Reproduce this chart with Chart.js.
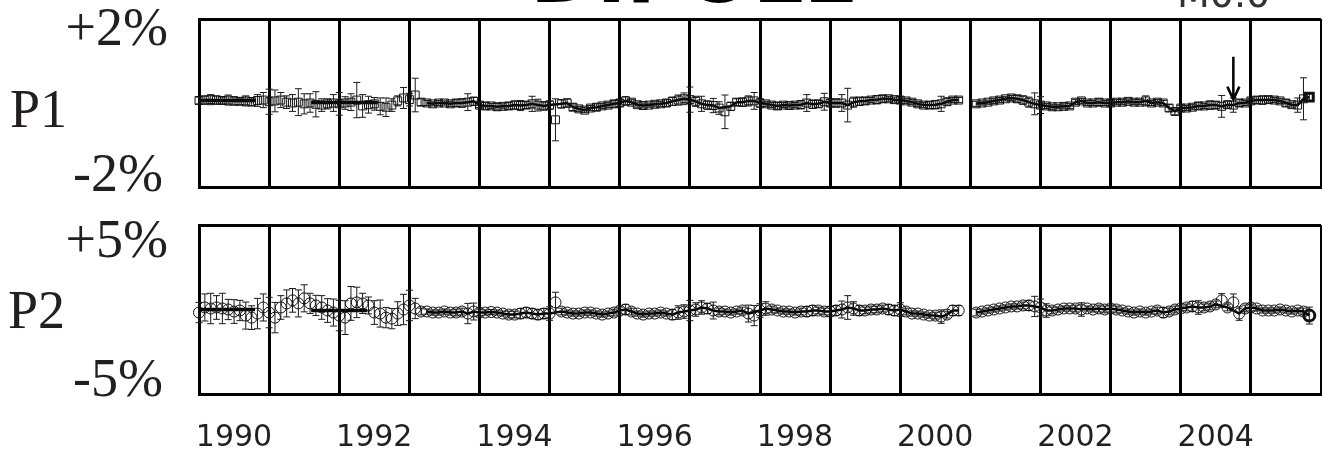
<!DOCTYPE html>
<html>
<head>
<meta charset="utf-8">
<title>P1 / P2 residuals</title>
<script src="https://cdn.jsdelivr.net/npm/chart.js@4.4.1/dist/chart.umd.min.js"></script>
<style>
    html, body { margin: 0; padding: 0; background: #fff; }
    #wrap { position: relative; width: 1322px; height: 466px; overflow: hidden; }
    canvas { position: absolute; left: 0; }
    #top { top: 0; }
    #bottom { top: 200px; }
</style>
</head>
<body>
<div id="wrap">
    <canvas id="top" width="1322" height="200"></canvas>
    <!-- wider than the page: the x labels reserve their padding on the right, which is clipped off -->
    <canvas id="bottom" width="1347" height="293"></canvas>
</div>
<script>
// ===============================
// DATA (monthly, in %)
// ===============================
const years = [1990, 1991, 1992, 1993, 1994, 1995, 1996, 1997, 1998, 1999, 2000, 2001, 2002, 2003, 2004, 2005];
const tickYears = [1990, 1992, 1994, 1996, 1998, 2000, 2002, 2004];

const p1Values = [
    [0.06, 0.07, 0.08, 0.07, 0.06, 0.07, 0.05, 0.04, 0.05, 0.03, 0.06, 0.07],
    [0.03, 0.05, 0.07, 0.02, 0.00, 0.02, -0.02, 0.00, -0.03, -0.05, -0.02, 0.00],
    [-0.02, 0.00, 0.02, 0.07, -0.07, -0.04, -0.02, -0.08, -0.10, -0.05, 0.05, 0.12],
    [0.08, 0.19, 0.02, 0.00, -0.02, 0.00, 0.00, -0.02, 0.00, 0.00, 0.02, 0.04],
    [-0.05, -0.07, -0.07, -0.09, -0.08, -0.07, -0.05, -0.06, -0.05, -0.02, -0.05, -0.07],
    [-0.05, -0.40, -0.02, 0.00, -0.10, -0.14, -0.17, -0.12, -0.10, -0.07, -0.05, -0.02],
    [0.00, 0.05, 0.02, -0.04, -0.06, -0.05, -0.03, -0.02, 0.00, 0.04, 0.07, 0.10],
    [0.08, 0.04, -0.02, -0.05, -0.06, -0.12, -0.21, -0.08, 0.02, 0.02, 0.05, 0.05],
    [0.00, -0.02, -0.05, -0.07, -0.05, -0.06, -0.05, -0.04, 0.00, -0.03, -0.02, 0.03],
    [0.00, 0.00, 0.00, -0.05, 0.02, 0.04, 0.05, 0.07, 0.08, 0.10, 0.10, 0.08],
    [0.07, 0.05, 0.02, -0.02, -0.05, -0.05, -0.04, -0.02, 0.03, 0.07, 0.07, null],
    [null, -0.02, 0.00, 0.02, 0.05, 0.07, 0.10, 0.12, 0.10, 0.07, 0.02, -0.02],
    [-0.05, -0.07, -0.09, -0.09, -0.08, -0.07, 0.02, 0.05, 0.00, 0.00, 0.02, 0.00],
    [0.00, 0.02, 0.02, 0.04, 0.02, 0.02, 0.05, 0.00, 0.02, 0.00, -0.12, -0.20],
    [-0.12, -0.12, -0.10, -0.07, -0.07, -0.05, -0.05, -0.08, -0.04, -0.05, 0.00, 0.00],
    [0.05, 0.07, 0.07, 0.08, 0.07, 0.05, 0.00, -0.04, -0.05, 0.10, 0.14]
];

const p1Errors = [
    [0.08, 0.10, 0.12, 0.10, 0.08, 0.12, 0.10, 0.08, 0.12, 0.10, 0.14, 0.18],
    [0.30, 0.26, 0.18, 0.15, 0.20, 0.32, 0.24, 0.22, 0.30, 0.15, 0.12, 0.20],
    [0.27, 0.15, 0.20, 0.42, 0.27, 0.20, 0.15, 0.20, 0.22, 0.15, 0.12, 0.25],
    [0.15, 0.40, 0.08, 0.06, 0.05, 0.06, 0.05, 0.06, 0.08, 0.10, 0.20, 0.10],
    [0.06, 0.08, 0.06, 0.08, 0.06, 0.08, 0.10, 0.12, 0.08, 0.18, 0.14, 0.10],
    [0.10, 0.50, 0.10, 0.10, 0.08, 0.06, 0.06, 0.06, 0.08, 0.06, 0.06, 0.08],
    [0.08, 0.10, 0.06, 0.06, 0.06, 0.05, 0.06, 0.06, 0.08, 0.10, 0.12, 0.14],
    [0.30, 0.12, 0.18, 0.10, 0.17, 0.15, 0.40, 0.10, 0.08, 0.10, 0.12, 0.20],
    [0.10, 0.06, 0.06, 0.08, 0.06, 0.06, 0.06, 0.10, 0.20, 0.10, 0.08, 0.20],
    [0.08, 0.10, 0.20, 0.40, 0.12, 0.10, 0.08, 0.06, 0.10, 0.08, 0.06, 0.06],
    [0.08, 0.06, 0.06, 0.06, 0.06, 0.08, 0.10, 0.18, 0.08, 0.06, 0.06, null],
    [null, 0.06, 0.05, 0.05, 0.06, 0.06, 0.05, 0.06, 0.08, 0.10, 0.12, 0.26],
    [0.20, 0.06, 0.06, 0.05, 0.06, 0.06, 0.06, 0.06, 0.06, 0.06, 0.08, 0.06],
    [0.06, 0.06, 0.06, 0.06, 0.06, 0.06, 0.12, 0.06, 0.06, 0.06, 0.08, 0.08],
    [0.06, 0.06, 0.06, 0.08, 0.06, 0.10, 0.08, 0.26, 0.08, 0.17, 0.08, 0.06],
    [0.06, 0.08, 0.10, 0.08, 0.06, 0.06, 0.08, 0.06, 0.17, 0.50, 0.08]
];

const p2Values = [
    [-0.18, 0.12, 0.06, 0.12, 0.06, 0.00, -0.12, -0.06, -0.36, -0.48, -0.24, 0.12],
    [-0.18, -0.48, 0.12, 0.36, 0.54, 0.36, 0.66, 0.36, 0.24, 0.12, -0.06, -0.18],
    [-0.36, -0.48, 0.36, 0.42, 0.36, 0.24, -0.18, -0.24, -0.48, -0.54, -0.24, 0.00],
    [0.24, 0.06, -0.12, -0.12, -0.18, -0.18, -0.12, -0.18, -0.18, -0.12, -0.24, -0.12],
    [-0.18, -0.18, -0.15, -0.18, -0.24, -0.30, -0.30, -0.24, -0.18, -0.24, -0.30, -0.24],
    [-0.24, 0.42, -0.12, -0.18, -0.24, -0.24, -0.18, -0.18, -0.24, -0.30, -0.24, -0.18],
    [-0.06, 0.00, -0.12, -0.24, -0.30, -0.24, -0.24, -0.18, -0.24, -0.30, -0.18, -0.12],
    [-0.06, 0.00, 0.12, 0.06, -0.06, -0.12, -0.12, -0.18, -0.12, -0.06, -0.24, -0.36],
    [-0.06, 0.06, 0.00, -0.06, -0.12, -0.12, -0.18, -0.12, -0.12, -0.06, -0.06, -0.12],
    [-0.12, -0.06, 0.00, 0.12, 0.06, -0.06, -0.06, 0.00, 0.00, 0.06, 0.00, -0.06],
    [0.00, -0.12, -0.24, -0.24, -0.30, -0.36, -0.36, -0.42, -0.30, -0.06, -0.06, null],
    [null, -0.18, -0.12, -0.06, 0.00, 0.06, 0.12, 0.18, 0.18, 0.24, 0.24, 0.18],
    [0.12, -0.06, -0.06, 0.00, 0.06, 0.06, 0.06, 0.00, 0.06, 0.00, 0.06, 0.00],
    [0.06, 0.00, -0.06, -0.12, -0.18, -0.12, -0.18, -0.12, -0.06, -0.18, -0.12, 0.00],
    [0.06, 0.12, 0.18, 0.12, 0.12, 0.18, 0.30, 0.54, 0.12, 0.42, -0.24, 0.06],
    [0.12, 0.06, -0.06, -0.06, -0.06, 0.00, -0.06, -0.12, -0.06, -0.12, -0.36]
];

const p2Errors = [
    [0.60, 0.80, 0.90, 0.70, 0.90, 0.60, 0.70, 0.60, 0.80, 0.70, 0.90, 0.80],
    [0.90, 0.90, 0.70, 0.80, 0.70, 0.80, 0.80, 0.60, 0.60, 0.70, 0.70, 0.80],
    [0.90, 1.00, 1.00, 0.90, 0.60, 0.50, 0.70, 0.80, 0.60, 0.60, 0.70, 0.90],
    [0.90, 0.60, 0.20, 0.15, 0.15, 0.15, 0.15, 0.15, 0.20, 0.20, 0.60, 0.50],
    [0.20, 0.15, 0.15, 0.15, 0.15, 0.20, 0.20, 0.30, 0.30, 0.30, 0.30, 0.30],
    [0.40, 0.60, 0.20, 0.15, 0.15, 0.15, 0.15, 0.15, 0.15, 0.15, 0.15, 0.20],
    [0.20, 0.30, 0.20, 0.15, 0.15, 0.15, 0.15, 0.15, 0.15, 0.30, 0.40, 0.40],
    [0.60, 0.40, 0.40, 0.30, 0.50, 0.20, 0.15, 0.15, 0.15, 0.20, 0.50, 0.60],
    [0.40, 0.40, 0.20, 0.15, 0.15, 0.15, 0.15, 0.20, 0.30, 0.30, 0.20, 0.20],
    [0.30, 0.30, 0.50, 0.70, 0.40, 0.30, 0.20, 0.20, 0.20, 0.20, 0.30, 0.30],
    [0.40, 0.20, 0.15, 0.15, 0.15, 0.15, 0.20, 0.40, 0.20, 0.30, 0.30, null],
    [null, 0.20, 0.15, 0.15, 0.15, 0.15, 0.15, 0.15, 0.15, 0.20, 0.30, 0.60],
    [0.50, 0.40, 0.20, 0.15, 0.15, 0.15, 0.20, 0.40, 0.15, 0.15, 0.20, 0.20],
    [0.20, 0.20, 0.15, 0.15, 0.15, 0.15, 0.15, 0.15, 0.20, 0.30, 0.20, 0.20],
    [0.15, 0.20, 0.30, 0.40, 0.20, 0.20, 0.20, 0.40, 0.20, 0.50, 0.40, 0.20],
    [0.20, 0.15, 0.15, 0.15, 0.15, 0.15, 0.15, 0.15, 0.15, 0.20, 0.50]
];

// early-year mean levels: [start, end, level]
const p1Means = [[1990.0, 1990.8, 0.06], [1991.6, 1992.55, 0.01]];
const p2Means = [[1990.0, 1990.8, 0.00], [1991.6, 1992.4, -0.06]];
const chainFrom = 1993.2;

// points that sit off the running line: [year, month index]
const p1Outliers = [[1995, 1], [1997, 6]];
const p2Outliers = [[1995, 1], [1997, 11], [2004, 7], [2004, 9]];

const arrowMark = { x: 2004.75, from: 1.1, to: 0.08 };

// ===============================
// HELPERS
// ===============================
function toPoints(vals) {
    const pts = [];
    years.forEach((yr, i) => {
        vals[i].forEach((v, m) => pts.push({ x: yr + m / 12, y: v }));
    });
    return pts;
}

function toChain(vals, outliers) {
    const pts = [];
    years.forEach((yr, i) => {
        vals[i].forEach((v, m) => {
            const x = yr + m / 12;
            if (v === null || x < chainFrom) return;
            if (outliers.some(o => o[0] === yr && o[1] === m)) return;
            pts.push({ x: x, y: v });
        });
    });
    return pts;
}

function toBars(vals, errs) {
    const pts = [];
    years.forEach((yr, i) => {
        vals[i].forEach((v, m) => {
            const e = errs[i][m];
            if (v === null || e === null) return;
            const x = yr + m / 12;
            pts.push({ x: x, y: v - e }, { x: x, y: v + e }, { x: x, y: null });
        });
    });
    return pts;
}

function toSegs(segs) {
    const pts = [];
    segs.forEach(s => pts.push({ x: s[0], y: s[2] }, { x: s[1], y: s[2] }, { x: s[1], y: null }));
    return pts;
}

function textPlugin(items) {
    return {
        id: "panelText",
        afterDraw(chart) {
            const ctx = chart.ctx;
            ctx.save();
            items.forEach(it => {
                ctx.font = it.font;
                ctx.fillStyle = it.color || "#231f20";
                ctx.textAlign = it.align;
                ctx.textBaseline = "alphabetic";
                ctx.fillText(it.text, it.x, it.y);
            });
            ctx.restore();
        }
    };
}

const arrowPlugin = {
    id: "arrowMark",
    afterDatasetsDraw(chart) {
        const { x, y } = chart.scales;
        const px = x.getPixelForValue(arrowMark.x);
        const y1 = y.getPixelForValue(arrowMark.from);
        const y2 = y.getPixelForValue(arrowMark.to);
        const ctx = chart.ctx;
        ctx.save();
        ctx.strokeStyle = "#000";
        ctx.lineWidth = 2.5;
        ctx.beginPath();
        ctx.moveTo(px, y1);
        ctx.lineTo(px, y2);
        ctx.moveTo(px - 6, y2 - 13);
        ctx.lineTo(px, y2);
        ctx.lineTo(px + 6, y2 - 13);
        ctx.stroke();
        ctx.restore();
    }
};

const serif = '54px "Liberation Serif", "Times New Roman", serif';

function buildDatasets(vals, errs, means, outliers, style, radius) {
    const pts = toPoints(vals);
    const last = pts.length - 1;
    return [
        {
            data: toSegs(means),
            borderColor: "#000",
            borderWidth: 3.5,
            pointRadius: 0,
            spanGaps: false,
            clip: false,
            order: 4
        },
        {
            // running line; spans single skipped months, breaks at real gaps
            data: toChain(vals, outliers),
            borderColor: "#000",
            borderWidth: 2.5,
            pointRadius: 0,
            spanGaps: 0.2,
            clip: false,
            order: 3
        },
        {
            data: toBars(vals, errs),
            borderColor: "#1a1a1a",
            borderWidth: 1,
            pointStyle: "line",
            pointRadius: 3.5,
            pointBorderWidth: 1,
            pointBorderColor: "#1a1a1a",
            spanGaps: false,
            clip: false,
            order: 2
        },
        {
            data: pts,
            showLine: false,
            pointStyle: style,
            pointRadius: radius,
            pointBorderWidth: c => c.dataIndex === last ? 3 : 1,
            pointBorderColor: "#111",
            pointBackgroundColor: "rgba(255,255,255,0)",
            clip: false,
            order: 1
        }
    ];
}

function frameScales(range, showLabels) {
    return {
        x: {
            type: "linear",
            min: years[0],
            max: years[years.length - 1] + 1,
            grid: { color: "#000", lineWidth: 3, drawTicks: false },
            border: { color: "#000", width: 3 },
            ticks: {
                display: showLabels,
                stepSize: 1,
                autoSkip: false,
                maxRotation: 0,
                padding: 26,
                labelOffset: 35,
                color: "#231f20",
                font: { family: "DejaVu Sans", size: 30 },
                callback: v => tickYears.includes(v) ? String(v) : ""
            }
        },
        y: {
            min: -range,
            max: range,
            afterBuildTicks: ax => { ax.ticks = [{ value: -range }, { value: range }]; },
            grid: { color: "#000", lineWidth: 3, drawTicks: false },
            border: { color: "#000", width: 3 },
            ticks: { display: false }
        }
    };
}

// ===============================
// CHARTS
// ===============================
new Chart(document.getElementById("top"), {
    type: "line",
    data: { datasets: buildDatasets(p1Values, p1Errors, p1Means, p1Outliers, "rect", 5.6) },
    options: {
        responsive: false,
        animation: false,
        events: [],
        layout: { autoPadding: false, padding: { left: 199, right: 1, top: 19, bottom: 13 } },
        plugins: { legend: { display: false }, tooltip: { enabled: false } },
        scales: frameScales(2, false)
    },
    plugins: [arrowPlugin, textPlugin([
        { text: "+2%", x: 168, y: 45, align: "right", font: serif },
        { text: "P1", x: 10, y: 127, align: "left", font: serif },
        { text: "-2%", x: 163, y: 191, align: "right", font: serif },
        { text: "DIPOLE", x: 530, y: 2, align: "left", font: 'bold 80px "DejaVu Sans"', color: "#000" },
        { text: "M0.0", x: 1177, y: 7, align: "left", font: '38px "DejaVu Sans"', color: "#333" }
    ])]
});

new Chart(document.getElementById("bottom"), {
    type: "line",
    data: { datasets: buildDatasets(p2Values, p2Errors, p2Means, p2Outliers, "circle", 5.5) },
    options: {
        responsive: false,
        animation: false,
        events: [],
        layout: { autoPadding: false, padding: { left: 199, right: 1, top: 25, bottom: 11 } },
        plugins: { legend: { display: false }, tooltip: { enabled: false } },
        scales: frameScales(5, true)
    },
    plugins: [textPlugin([
        { text: "+5%", x: 168, y: 57, align: "right", font: serif },
        { text: "P2", x: 8, y: 128, align: "left", font: serif },
        { text: "-5%", x: 163, y: 196, align: "right", font: serif }
    ])]
});
</script>
</body>
</html>
